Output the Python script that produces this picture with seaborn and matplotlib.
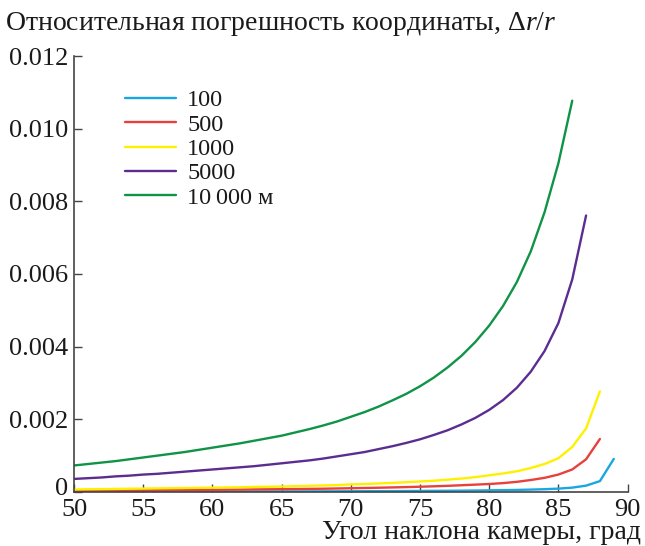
import matplotlib
matplotlib.use("Agg")
import matplotlib.pyplot as plt
import matplotlib.transforms as mtransforms
import seaborn as sns
import pandas as pd
import numpy as np
from matplotlib.ticker import FuncFormatter

# ---- data ----
angles_100 = list(range(50, 90))
err_100 = [0.000007, 0.000008, 0.000008, 0.000009, 0.000009, 0.00001, 0.00001, 0.000011, 0.000011, 0.000012,
           0.000012, 0.000013, 0.000013, 0.000014, 0.000015, 0.000016, 0.000016, 0.000017, 0.000018, 0.000019,
           0.000021, 0.000022, 0.000024, 0.000025, 0.000027, 0.000029, 0.000032, 0.000034, 0.000037, 0.000041,
           0.000046, 0.000051, 0.000057, 0.000066, 0.000077, 0.000093, 0.00012, 0.000175, 0.0003, 0.00091]

angles_500 = list(range(50, 89))
err_500 = [0.000035, 0.000037, 0.00004, 0.000042, 0.000045, 0.000047, 0.00005, 0.000052, 0.000055, 0.000058,
           0.00006, 0.000063, 0.000066, 0.00007, 0.000074, 0.000078, 0.000082, 0.000086, 0.00009, 0.000097,
           0.000104, 0.00011, 0.000118, 0.000126, 0.000135, 0.000145, 0.000157, 0.00017, 0.000186, 0.000203,
           0.00022, 0.000245, 0.00028, 0.00033, 0.00039, 0.00048, 0.00062, 0.0009, 0.00146]

angles_1000 = list(range(50, 89))
err_1000 = [0.00007, 0.000075, 0.00008, 0.000085, 0.00009, 0.000095, 0.0001, 0.000105, 0.00011, 0.000115,
            0.00012, 0.000125, 0.00013, 0.00014, 0.000145, 0.00015, 0.00016, 0.00017, 0.00018, 0.00019,
            0.00021, 0.00022, 0.000235, 0.00025, 0.00027, 0.00029, 0.00031, 0.00034, 0.00037, 0.00041,
            0.00046, 0.00051, 0.00057, 0.00066, 0.00077, 0.00093, 0.00124, 0.00175, 0.00277]

angles_5000 = list(range(50, 88))
err_5000 = [0.00036, 0.00038, 0.00040, 0.00043, 0.00045, 0.00048, 0.00050, 0.00053, 0.00056, 0.00059,
            0.00062, 0.00065, 0.00068, 0.00071, 0.00075, 0.00079, 0.00083, 0.00087, 0.00092, 0.00098,
            0.00104, 0.00110, 0.00118, 0.00126, 0.00135, 0.00145, 0.00157, 0.00170, 0.00186, 0.00204,
            0.00226, 0.00253, 0.00287, 0.00331, 0.00388, 0.00465, 0.00585, 0.00761]

angles_10000 = list(range(50, 87))
err_10000 = [0.00073, 0.00077, 0.00081, 0.00085, 0.00090, 0.00095, 0.00100, 0.00105, 0.00110, 0.00116,
             0.00122, 0.00128, 0.00134, 0.00141, 0.00148, 0.00155, 0.00164, 0.00173, 0.00183, 0.00194,
             0.00207, 0.00220, 0.00235, 0.00252, 0.00270, 0.00291, 0.00315, 0.00343, 0.00375, 0.00413,
             0.00458, 0.00512, 0.00578, 0.00662, 0.00770, 0.00905, 0.01077]

series_labels = ["100", "500", "1000", "5000", "10\u2009000 м"]
series_colors = ["#1AA7E1", "#E8413B", "#FFF000", "#5B2D90", "#0F9347"]
x_ticks = [50, 55, 60, 65, 70, 75, 80, 85, 90]
y_ticks = [0, 0.002, 0.004, 0.006, 0.008, 0.010, 0.012]
title_text = "Относительная погрешность координаты, $\\mathit{\\Delta r/r}$"
xlabel_text = "Угол наклона камеры, град"

frames = []
for lab, a, e in zip(series_labels,
                     [angles_100, angles_500, angles_1000, angles_5000, angles_10000],
                     [err_100, err_500, err_1000, err_5000, err_10000]):
    frames.append(pd.DataFrame({"angle": a, "err": e, "series": lab}))
df = pd.concat(frames, ignore_index=True)

sns.set_style("ticks")
plt.rcParams["font.family"] = ["Liberation Serif", "DejaVu Serif"]
plt.rcParams["mathtext.fontset"] = "custom"
plt.rcParams["mathtext.rm"] = "Liberation Serif"
plt.rcParams["mathtext.it"] = "Liberation Serif:italic"

FS_TICK = 19
FS_TEXT = 20
FS_LEG = 17.5
TXT = "#1a1a1a"

fig = plt.figure(figsize=(6.45, 5.46), dpi=100)
ax = fig.add_axes([74 / 645, 54 / 546, (627.6 - 74) / 645, (492 - 56) / 546])

sns.lineplot(data=df, x="angle", y="err", hue="series", hue_order=series_labels,
             palette=dict(zip(series_labels, series_colors)), linewidth=1.7, ax=ax,
             legend=True)

ax.set_xlim(50, 90)
ax.set_ylim(0, 0.012)
ax.set_xticks(x_ticks)
ax.set_yticks(y_ticks)
ax.yaxis.set_major_formatter(FuncFormatter(lambda v, p: "0" if abs(v) < 1e-12 else f"{v:.3f}"))
ax.set_xlabel("")
ax.set_ylabel("")
for s in ["top", "right"]:
    ax.spines[s].set_visible(False)
for s in ["left", "bottom"]:
    ax.spines[s].set_color("#444444")
    ax.spines[s].set_linewidth(1.2)
ax.tick_params(direction="in", length=6, width=1.0, color="#444444",
               labelsize=FS_TICK, labelcolor=TXT, pad=4)
ax.tick_params(axis="x", pad=5)

# nudge the "0" y label up slightly so it does not touch the "50" x label
fig.canvas.draw()
zero_lab = ax.yaxis.get_majorticklabels()[0]
zero_lab.set_transform(zero_lab.get_transform() +
                       mtransforms.ScaledTranslation(0, 4 / 72, fig.dpi_scale_trans))

leg = ax.legend(loc="upper left", bbox_to_anchor=(113 / 645, 1 - 77 / 546),
                bbox_transform=fig.transFigure, frameon=False, fontsize=FS_LEG,
                handlelength=2.1, handletextpad=0.45, labelspacing=0.1, borderpad=0)
for t in leg.get_texts():
    t.set_color(TXT)
for l in leg.get_lines():
    l.set_linewidth(1.7)

fig.text(5 / 645, 1 - 24 / 546, title_text, fontsize=FS_TEXT, ha="left", va="center", color=TXT)
fig.text(641 / 645, 1 / 546, xlabel_text, fontsize=FS_TEXT, ha="right", va="bottom", color=TXT)

fig.savefig("out.png", dpi=100)
